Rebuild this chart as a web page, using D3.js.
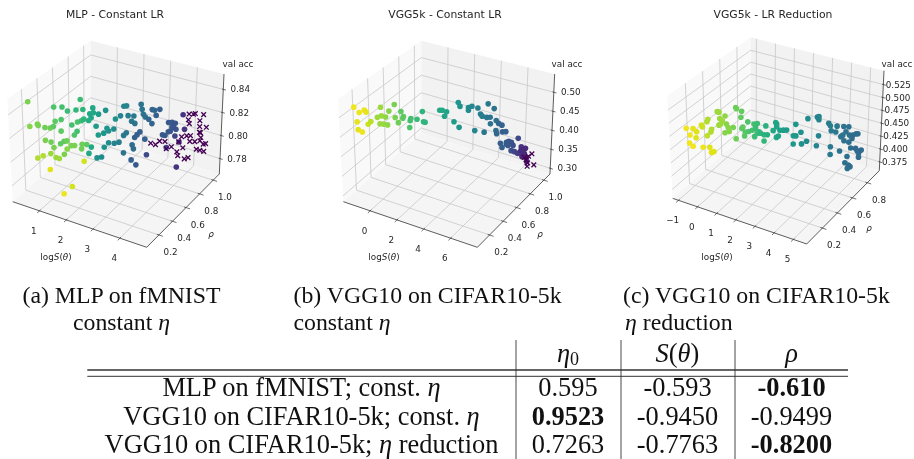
<!DOCTYPE html>
<html>
<head>
<meta charset="utf-8">
<script src="https://cdn.jsdelivr.net/npm/d3@7"></script>
<style>
    html, body { margin: 0; padding: 0; background: #fff; }
    svg { display: block; }
    .plot text { font-family: "DejaVu Sans", sans-serif; fill: #262626; }
    .paper text { font-family: "Liberation Serif", serif; fill: #111; }
    .plot { filter: blur(0.3px); }
    .paper { filter: blur(0.25px); }
</style>
</head>
<body>
<svg id="chart" width="914" height="459"></svg>
<script>
// each point: logS, rho, val acc, colour position (read from the hue)
var mlpDots = [
    [0.21,0.2,0.844,0.80],[0.25,0.2,0.823,0.82],[0.53,0.2,0.827,0.80],[0.56,0.2,0.826,0.80],[0.50,0.2,0.798,0.88],
    [0.52,0.3,0.819,0.78],[0.71,0.3,0.820,0.78],[0.83,0.3,0.822,0.75],[0.90,0.3,0.827,0.75],[0.86,0.3,0.839,0.72],
    [1.16,0.3,0.841,0.70],[1.12,0.3,0.830,0.72],[1.11,0.3,0.820,0.75],[0.52,0.3,0.808,0.80],[0.73,0.3,0.808,0.78],
    [1.08,0.3,0.809,0.75],[1.21,0.3,0.812,0.75],[0.83,0.3,0.804,0.80],[0.71,0.3,0.798,0.85],[0.90,0.3,0.796,0.85],
    [1.21,0.3,0.801,0.80],[1.02,0.3,0.796,0.85],[0.42,0.3,0.794,0.88],[0.67,0.3,0.784,0.95],[1.17,0.3,0.767,0.97],
    [1.08,0.4,0.832,0.68],[1.39,0.4,0.835,0.66],[1.64,0.4,0.837,0.65],[1.55,0.4,0.845,0.68],[1.89,0.4,0.835,0.60],
    [1.94,0.4,0.832,0.60],[1.44,0.4,0.825,0.72],[1.58,0.4,0.827,0.68],[1.67,0.4,0.829,0.65],[1.85,0.4,0.829,0.62],
    [1.23,0.4,0.821,0.70],[1.42,0.4,0.817,0.70],[1.32,0.4,0.813,0.72],[1.04,0.4,0.806,0.78],[1.19,0.4,0.803,0.80],
    [1.32,0.4,0.804,0.80],[1.04,0.4,0.799,0.82],[1.60,0.4,0.807,0.78],[1.77,0.4,0.808,0.75],[1.94,0.4,0.807,0.60],
    [1.58,0.4,0.803,0.78],[1.85,0.4,0.801,0.60],[1.67,0.4,0.793,0.93],[1.21,0.4,0.768,0.93],
    [1.73,0.5,0.834,0.60],[1.75,0.5,0.830,0.60],[2.20,0.5,0.835,0.50],[1.94,0.5,0.830,0.55],[1.85,0.5,0.819,0.55],
    [1.88,0.5,0.792,0.50],[2.05,0.5,0.794,0.48],[2.15,0.5,0.803,0.50],[2.31,0.5,0.808,0.48],[2.52,0.5,0.809,0.45],
    [1.93,0.5,0.812,0.55],[2.13,0.5,0.815,0.52],[2.31,0.5,0.818,0.50],[2.25,0.5,0.820,0.52],[2.50,0.5,0.821,0.48],
    [2.56,0.5,0.830,0.50],
    [2.43,0.6,0.804,0.42],[2.60,0.6,0.811,0.40],[2.70,0.6,0.814,0.40],[2.48,0.6,0.827,0.45],[2.60,0.6,0.836,0.45],
    [2.70,0.6,0.837,0.45],[2.76,0.6,0.829,0.42],[2.97,0.6,0.830,0.40],[2.89,0.6,0.825,0.40],[3.01,0.6,0.824,0.38],
    [2.92,0.6,0.805,0.35],[2.97,0.6,0.802,0.35],[2.60,0.6,0.796,0.38],[2.89,0.6,0.792,0.30],[3.07,0.6,0.789,0.28],
    [3.01,0.6,0.812,0.30],[3.10,0.6,0.815,0.30],[3.20,0.6,0.818,0.30],
    [2.97,0.7,0.835,0.38],[3.01,0.7,0.831,0.38],[3.06,0.7,0.827,0.38],[3.13,0.7,0.825,0.36],[3.38,0.7,0.833,0.33],
    [3.47,0.7,0.833,0.32],[3.66,0.7,0.835,0.30],[3.26,0.7,0.824,0.33],[3.38,0.7,0.821,0.32],[3.53,0.7,0.829,0.30],
    [3.20,0.7,0.793,0.22],[3.78,0.7,0.814,0.27],[3.13,0.7,0.806,0.30],
    [3.62,0.8,0.807,0.27],[3.74,0.8,0.811,0.27],[3.81,0.8,0.812,0.27],[3.87,0.8,0.816,0.27],[3.74,0.8,0.819,0.28],
    [3.87,0.8,0.820,0.27],[3.99,0.8,0.820,0.26],[3.93,0.8,0.816,0.26],[4.02,0.8,0.815,0.25],[4.27,0.8,0.829,0.15],
    [4.34,0.8,0.817,0.15],[4.15,0.8,0.805,0.15],[3.99,0.8,0.809,0.20],[3.68,0.8,0.797,0.20],[4.08,0.8,0.783,0.15]
];
var mlpCrosses = [
    [3.35,0.7,0.804],[3.53,0.7,0.804],[3.68,0.7,0.808],[3.88,0.7,0.809],
    [3.68,0.8,0.796],[3.87,0.8,0.799],[4.08,0.8,0.796],[4.12,0.8,0.793],[4.24,0.8,0.810],[4.14,0.8,0.805],
    [4.49,0.8,0.831],[4.47,0.8,0.826],[4.51,0.8,0.823],[4.43,0.8,0.812],[4.30,0.8,0.801],[4.37,0.8,0.792],[4.51,0.8,0.794],
    [4.40,0.9,0.825],[4.47,0.9,0.826],[4.78,0.9,0.827],[4.65,0.9,0.821],[4.65,0.9,0.816],[4.90,0.9,0.817],
    [4.32,0.9,0.806],[4.30,0.9,0.801],[4.49,0.9,0.802],[4.65,0.9,0.811],[4.69,0.9,0.811],[4.71,0.9,0.807],
    [4.68,0.9,0.804],[4.81,0.9,0.802],[4.90,0.9,0.803],[4.56,0.9,0.796],[4.69,0.9,0.796],[4.84,0.9,0.796]
];

var vggDots = [
    [-1.93,0.2,0.502,0.98],[-1.55,0.2,0.492,0.97],[-1.18,0.2,0.502,0.97],[-1.05,0.2,0.498,0.96],[-1.73,0.2,0.466,0.96],
    [-1.68,0.2,0.446,0.96],[-1.38,0.2,0.443,0.97],[-0.93,0.2,0.468,0.92],[-0.73,0.2,0.477,0.90],
    [-0.56,0.3,0.501,0.85],[-0.81,0.3,0.472,0.85],[-0.51,0.3,0.479,0.85],[-0.21,0.3,0.479,0.83],[0.04,0.3,0.497,0.82],
    [0.44,0.3,0.518,0.80],[-0.63,0.3,0.457,0.85],[-0.38,0.3,0.459,0.84],[-0.08,0.3,0.460,0.83],[0.49,0.3,0.485,0.80],
    [0.36,0.4,0.484,0.75],[0.16,0.4,0.453,0.78],[0.54,0.4,0.473,0.75],[0.49,0.4,0.468,0.75],[1.08,0.4,0.473,0.70],
    [1.03,0.4,0.467,0.70],[1.53,0.4,0.476,0.68],[0.99,0.4,0.449,0.72],
    [1.38,0.5,0.479,0.65],[1.46,0.5,0.453,0.65],[1.58,0.5,0.453,0.65],[2.65,0.5,0.495,0.60],[2.83,0.5,0.497,0.60],
    [3.15,0.5,0.496,0.58],[3.00,0.5,0.483,0.58],
    [3.17,0.6,0.455,0.55],[3.55,0.6,0.444,0.52],[3.47,0.6,0.508,0.52],[3.60,0.6,0.499,0.52],[4.22,0.6,0.502,0.48],
    [4.22,0.6,0.495,0.48],[4.47,0.6,0.508,0.46],
    [4.39,0.7,0.487,0.43],[4.59,0.7,0.473,0.42],[4.72,0.7,0.469,0.42],[5.06,0.7,0.469,0.40],[5.31,0.7,0.472,0.38],
    [5.14,0.7,0.505,0.40],[5.59,0.7,0.497,0.38],[5.76,0.7,0.468,0.36],[5.34,0.7,0.455,0.38],[4.19,0.7,0.426,0.45],
    [4.89,0.7,0.429,0.40],[5.76,0.7,0.442,0.35],
    [5.31,0.8,0.413,0.33],[5.44,0.8,0.441,0.33],[5.69,0.8,0.439,0.32],[5.74,0.8,0.422,0.30],[5.99,0.8,0.425,0.30],
    [6.93,0.8,0.417,0.22],[5.61,0.8,0.391,0.30],[5.74,0.8,0.381,0.30],[6.06,0.8,0.398,0.28],[6.23,0.8,0.402,0.27],
    [6.43,0.8,0.402,0.26],[6.18,0.8,0.391,0.26],[6.56,0.8,0.395,0.24],[6.43,0.8,0.380,0.24],[6.06,0.8,0.393,0.28],
    [6.68,0.8,0.380,0.20],[6.93,0.8,0.378,0.18],
    [6.68,0.9,0.376,0.15],[7.00,0.9,0.375,0.12],[6.63,0.9,0.362,0.15],[6.93,0.9,0.361,0.12],[6.76,0.9,0.351,0.10],
    [7.08,0.9,0.350,0.10],[7.13,0.9,0.342,0.08],[6.68,0.9,0.367,0.12]
];
var vggCrosses = [
    [7.50,0.9,0.366],[7.25,0.9,0.357],[7.08,0.9,0.346],[7.20,0.9,0.339],[7.68,0.9,0.339],[7.18,0.9,0.330],[6.96,0.9,0.351]
];

var lrDots = [
    [-1.13,0.15,0.473,0.98],[-0.95,0.15,0.462,0.98],[-0.99,0.15,0.446,0.98],[-0.81,0.15,0.442,0.98],[-0.78,0.15,0.476,0.96],
    [-0.60,0.15,0.472,0.95],[-0.64,0.15,0.460,0.95],
    [-0.74,0.24,0.472,0.93],[-0.69,0.24,0.469,0.92],[-0.69,0.24,0.430,0.97],[-0.34,0.24,0.434,0.95],[-0.26,0.24,0.425,0.95],
    [-0.13,0.24,0.428,0.95],[-0.45,0.24,0.455,0.90],[-0.40,0.24,0.487,0.88],[-0.45,0.24,0.482,0.88],[-0.22,0.24,0.470,0.88],
    [-0.26,0.24,0.464,0.88],[0.09,0.24,0.507,0.85],[0.18,0.24,0.507,0.85],[0.21,0.24,0.495,0.85],[0.48,0.24,0.503,0.83],
    [0.34,0.24,0.492,0.85],[0.16,0.24,0.482,0.85],[0.25,0.24,0.485,0.85],
    [0.16,0.33,0.473,0.82],[0.25,0.33,0.467,0.82],[0.51,0.33,0.470,0.80],[0.08,0.33,0.455,0.82],[0.30,0.33,0.460,0.82],
    [0.65,0.33,0.510,0.78],[0.69,0.33,0.508,0.78],[0.95,0.33,0.506,0.76],[0.91,0.33,0.494,0.76],[1.26,0.33,0.489,0.72],
    [1.00,0.33,0.476,0.75],[0.95,0.33,0.473,0.75],[0.65,0.33,0.450,0.78],[1.09,0.33,0.460,0.74],[1.12,0.33,0.468,0.74],
    [1.30,0.33,0.471,0.72],
    [1.07,0.43,0.458,0.70],[1.16,0.43,0.471,0.70],[1.33,0.43,0.474,0.68],[1.24,0.43,0.464,0.68],[1.42,0.43,0.459,0.66],
    [1.33,0.43,0.455,0.68],[1.19,0.43,0.447,0.68],[1.50,0.43,0.457,0.65],[1.68,0.43,0.456,0.64],[1.85,0.43,0.458,0.63],
    [1.77,0.43,0.474,0.64],[2.15,0.43,0.469,0.60],[2.28,0.43,0.486,0.60],[2.32,0.43,0.458,0.60],[1.68,0.43,0.444,0.66],
    [1.96,0.52,0.468,0.58],[1.96,0.52,0.463,0.58],[2.13,0.52,0.458,0.57],[2.31,0.52,0.460,0.56],[2.48,0.52,0.462,0.55],
    [2.05,0.52,0.446,0.58],[2.95,0.52,0.478,0.53],[2.83,0.52,0.455,0.54],[2.96,0.52,0.456,0.53],[2.83,0.52,0.439,0.54],
    [2.86,0.61,0.450,0.50],[2.90,0.61,0.428,0.50],[3.16,0.61,0.436,0.48],[3.21,0.61,0.480,0.48],[3.70,0.61,0.488,0.45],
    [3.78,0.61,0.490,0.45],[3.78,0.61,0.484,0.45],[3.78,0.61,0.453,0.45],[3.68,0.61,0.433,0.45],
    [3.94,0.70,0.467,0.42],[4.03,0.70,0.463,0.42],[4.38,0.70,0.466,0.40],[4.08,0.70,0.454,0.41],[4.32,0.70,0.454,0.40],
    [4.73,0.70,0.469,0.38],[4.99,0.70,0.471,0.37],[4.85,0.70,0.460,0.37],[4.69,0.70,0.452,0.38],[4.59,0.70,0.448,0.38],
    [4.76,0.70,0.442,0.37],[5.02,0.70,0.442,0.36],[4.06,0.70,0.423,0.41],[4.06,0.70,0.408,0.41],[4.55,0.70,0.420,0.38],
    [4.95,0.70,0.414,0.36],[4.85,0.70,0.401,0.36],
    [4.69,0.79,0.440,0.36],[4.87,0.79,0.442,0.35],[5.04,0.79,0.446,0.35],[5.13,0.79,0.447,0.35],[4.83,0.79,0.435,0.35],
    [4.78,0.79,0.416,0.35],[5.04,0.79,0.418,0.34],[5.13,0.79,0.414,0.34],[5.34,0.79,0.418,0.34],[5.21,0.79,0.411,0.34],
    [5.21,0.79,0.403,0.34],[4.69,0.79,0.382,0.36],[4.78,0.79,0.380,0.35],[4.64,0.79,0.375,0.36]
];

var mlpTitle = "MLP - Constant LR", vggTitle = "VGG5k - Constant LR", lrTitle = "VGG5k - LR Reduction";

var mlpLogTicks = [1, 2, 3, 4], mlpRhoTicks = [0.2, 0.4, 0.6, 0.8, 1.0], mlpAccTicks = [0.78, 0.80, 0.82, 0.84];
var vggLogTicks = [0, 2, 4, 6], vggRhoTicks = [0.2, 0.4, 0.6, 0.8, 1.0], vggAccTicks = [0.30, 0.35, 0.40, 0.45, 0.50];
var lrLogTicks = [-1, 0, 1, 2, 3, 4, 5], lrRhoTicks = [0.2, 0.4, 0.6, 0.8],
    lrAccTicks = [0.375, 0.400, 0.425, 0.450, 0.475, 0.500, 0.525];

var captionA = ["(a) MLP on fMNIST", "constant "];
var captionB = ["(b) VGG10 on CIFAR10-5k", "constant "];
var captionC = ["(c) VGG10 on CIFAR10-5k", " reduction"];

var tableNames = [["MLP on fMNIST; const. ", ""], ["VGG10 on CIFAR10-5k; const. ", ""], ["VGG10 on CIFAR10-5k; ", " reduction"]];
var tableEta = ["0.595", "0.9523", "0.7263"];
var tableS = ["-0.593", "-0.9450", "-0.7763"];
var tableRho = ["-0.610", "-0.9499", "-0.8200"];
var boldCells = {"0.9523": 1, "-0.610": 1, "-0.8200": 1};

var svg = d3.select("#chart");

// pane corners of the first plot, the others are shifted copies. Index is u,v,w as bits
var boxCorners = {
    "000": [12.7, 201.7], "100": [146.7, 247.3], "010": [90.7, 133.3], "110": [219.3, 174],
    "001": [7.3, 99], "101": [150, 138.3], "011": [90.7, 40.7], "111": [224, 74]
};

function lerp(a, b, t) {
    return a + (b - a) * t;
}

function boxPoint(u, v, w) {
    return [0, 1].map(function (i) {
        var c = boxCorners;
        var v0 = lerp(lerp(c["000"][i], c["100"][i], u), lerp(c["010"][i], c["110"][i], u), v);
        var v1 = lerp(lerp(c["001"][i], c["101"][i], u), lerp(c["011"][i], c["111"][i], u), v);
        return lerp(v0, v1, w);
    });
}

function drawPlot(cfg) {
    var xScale = d3.scaleLinear().domain(cfg.logLim).range([0, 1]);
    var yScale = d3.scaleLinear().domain(cfg.rhoLim).range([0, 1]);
    var zScale = d3.scaleLinear().domain(cfg.accLim).range([0, 1]);

    function proj(x, y, z) {
        return boxPoint(xScale(x), yScale(y), zScale(z));
    }

    var xMin = cfg.logLim[0], xMax = cfg.logLim[1], yMin = cfg.rhoLim[0], yMax = cfg.rhoLim[1],
        zMin = cfg.accLim[0], zMax = cfg.accLim[1];

    var g = svg.append("g").attr("class", "plot")
        .attr("transform", "translate(" + cfg.dx + "," + cfg.dy + ")");

    var pathLine = d3.line();

    function seg(parent, a, b, color, width) {
        parent.append("path")
            .attr("d", pathLine([a, b]))
            .attr("stroke", color)
            .attr("stroke-width", width)
            .attr("fill", "none");
    }

    function pane(points, color) {
        g.append("path")
            .attr("d", pathLine(points) + "Z")
            .attr("fill", color);
    }

    pane([proj(xMin, yMin, zMin), proj(xMin, yMax, zMin), proj(xMin, yMax, zMax), proj(xMin, yMin, zMax)], "#f9f9f9");
    pane([proj(xMin, yMax, zMin), proj(xMax, yMax, zMin), proj(xMax, yMax, zMax), proj(xMin, yMax, zMax)], "#f2f2f2");
    pane([proj(xMin, yMin, zMin), proj(xMax, yMin, zMin), proj(xMax, yMax, zMin), proj(xMin, yMax, zMin)], "#f5f5f5");

    var grid = g.append("g");
    var gridColor = "#c8c8c8";
    cfg.logTicks.forEach(function (t) {
        seg(grid, proj(t, yMin, zMin), proj(t, yMax, zMin), gridColor, 0.8);
        seg(grid, proj(t, yMax, zMin), proj(t, yMax, zMax), gridColor, 0.8);
    });
    cfg.rhoTicks.forEach(function (t) {
        seg(grid, proj(xMin, t, zMin), proj(xMax, t, zMin), gridColor, 0.8);
        seg(grid, proj(xMin, t, zMin), proj(xMin, t, zMax), gridColor, 0.8);
    });
    cfg.accTicks.forEach(function (t) {
        seg(grid, proj(xMin, yMin, t), proj(xMin, yMax, t), gridColor, 0.8);
        seg(grid, proj(xMin, yMax, t), proj(xMax, yMax, t), gridColor, 0.8);
    });

    // edges of the box with the axes on them
    var axes = g.append("g");
    seg(axes, proj(xMin, yMin, zMin), proj(xMax, yMin, zMin), "#333", 0.8);
    seg(axes, proj(xMax, yMin, zMin), proj(xMax, yMax, zMin), "#333", 0.8);
    seg(axes, proj(xMax, yMax, zMin), proj(xMax, yMax, zMax), "#333", 0.8);

    var logOut = (yMax - yMin) * 0.03, rhoOut = (xMax - xMin) * 0.03, accOut = (xMax - xMin) * 0.02;
    var tickSize = 8.8;

    cfg.logTicks.forEach(function (t) {
        var p = proj(t, yMin, zMin);
        seg(axes, proj(t, yMin - logOut, zMin), proj(t, yMin + logOut / 2, zMin), "#333", 0.7);
        g.append("text").attr("x", p[0] - 5.7).attr("y", p[1] + 20)
            .attr("text-anchor", "middle").attr("dy", "0.35em").style("font-size", tickSize + "px")
            .text(d3.format("d")(t));
    });
    cfg.rhoTicks.forEach(function (t) {
        var p = proj(xMax, t, zMin);
        seg(axes, proj(xMax + rhoOut, t, zMin), proj(xMax - rhoOut / 2, t, zMin), "#333", 0.7);
        g.append("text").attr("x", p[0] + 11.7).attr("y", p[1] + 17)
            .attr("text-anchor", "middle").attr("dy", "0.35em").style("font-size", tickSize + "px")
            .text(d3.format(".1f")(t));
    });
    cfg.accTicks.forEach(function (t) {
        var p = proj(xMax, yMax, t);
        seg(axes, proj(xMax + accOut, yMax, t), proj(xMax - accOut / 2, yMax, t), "#333", 0.7);
        g.append("text").attr("x", p[0] + cfg.accLabelOffset).attr("y", p[1])
            .attr("text-anchor", "middle").attr("dy", "0.35em").style("font-size", tickSize + "px")
            .text(d3.format(cfg.accFormat)(t));
    });

    // points
    g.selectAll("circle.dot").data(cfg.dots).enter().append("circle")
        .attr("class", "dot")
        .attr("cx", function (d) { return proj(d[0], d[1], d[2])[0]; })
        .attr("cy", function (d) { return proj(d[0], d[1], d[2])[1]; })
        .attr("r", 2.8)
        .attr("fill", function (d) { return d3.interpolateViridis(d[3]); });

    var crossPath = d3.symbol().type(d3.symbolX).size(16);
    g.selectAll("path.cross").data(cfg.crosses).enter().append("path")
        .attr("class", "cross")
        .attr("d", crossPath)
        .attr("transform", function (d) {
            var p = proj(d[0], d[1], d[2]);
            return "translate(" + p[0] + "," + p[1] + ")";
        })
        .attr("fill", "none")
        .attr("stroke", d3.interpolateViridis(0))
        .attr("stroke-width", 1.3);

    // titles and axis names are placed in page coordinates
    var page = svg.append("g").attr("class", "plot");
    page.append("text").attr("x", cfg.titleX).attr("y", 18)
        .attr("text-anchor", "middle").style("font-size", "10.8px").text(cfg.title);
    page.append("text").attr("x", cfg.accNameX).attr("y", 64).attr("dy", "0.35em")
        .attr("text-anchor", "middle").style("font-size", tickSize + "px").text("val acc");

    var logName = page.append("text").attr("x", cfg.logName[0]).attr("y", cfg.logName[1]).attr("dy", "0.35em")
        .attr("text-anchor", "middle").style("font-size", tickSize + "px");
    logName.append("tspan").text("log");
    logName.append("tspan").attr("font-style", "italic").text("S");
    logName.append("tspan").text("(");
    logName.append("tspan").attr("font-style", "italic").text("θ");
    logName.append("tspan").text(")");

    page.append("text").attr("x", cfg.rhoName[0]).attr("y", cfg.rhoName[1]).attr("dy", "0.35em")
        .attr("text-anchor", "middle").attr("font-style", "italic").style("font-size", tickSize + "px").text("ρ");
}

drawPlot({
    title: mlpTitle, titleX: 115, dx: 0, dy: 0, accNameX: 238, logName: [56, 257], rhoName: [211, 234],
    logLim: [0, 5], rhoLim: [0.02, 1.09], accLim: [0.7667, 0.8533], accFormat: ".2f", accLabelOffset: 17,
    logTicks: mlpLogTicks, rhoTicks: mlpRhoTicks, accTicks: mlpAccTicks, dots: mlpDots, crosses: mlpCrosses
});
drawPlot({
    title: vggTitle, titleX: 445, dx: 330.67, dy: 0, accNameX: 567, logName: [384, 257], rhoName: [540, 234],
    logLim: [-2, 8], rhoLim: [0.02, 1.09], accLim: [0.285, 0.548], accFormat: ".2f", accLabelOffset: 17,
    logTicks: vggLogTicks, rhoTicks: vggRhoTicks, accTicks: vggAccTicks, dots: vggDots, crosses: vggCrosses
});
drawPlot({
    title: lrTitle, titleX: 773, dx: 660, dy: -3.33, accNameX: 897, logName: [717, 257], rhoName: [869, 228],
    logLim: [-1.3, 5.7], rhoLim: [-0.01, 0.96], accLim: [0.358, 0.552], accFormat: ".3f", accLabelOffset: 15,
    logTicks: lrLogTicks, rhoTicks: lrRhoTicks, accTicks: lrAccTicks, dots: lrDots, crosses: []
});

// captions and the table under the plots
var paper = svg.append("g").attr("class", "paper");
var captionSize = 23.8, tableSize = 26.4;

function etaText(x, y, before, after, anchor, size) {
    var t = paper.append("text").attr("x", x).attr("y", y)
        .attr("text-anchor", anchor || "start")
        .style("font-size", size + "px");
    if (before) t.append("tspan").text(before);
    t.append("tspan").attr("font-style", "italic").text("η");
    if (after) t.append("tspan").text(after);
}

function plainText(x, y, str, anchor, size, bold) {
    paper.append("text").attr("x", x).attr("y", y)
        .attr("text-anchor", anchor || "start")
        .attr("font-weight", bold ? "bold" : "normal")
        .style("font-size", size + "px")
        .text(str);
}

plainText(22.5, 303, captionA[0], "start", captionSize);
etaText(73, 330, captionA[1], "", "start", captionSize);
plainText(293.5, 303, captionB[0], "start", captionSize);
etaText(293.5, 330, captionB[1], "", "start", captionSize);
plainText(623, 303, captionC[0], "start", captionSize);
etaText(625, 330, "", captionC[1], "start", captionSize);

var colX = [568, 677.5, 791.5], ruleLeft = 87.3, ruleRight = 848;
var rowY = [396, 424.5, 453];

[516, 621, 735].forEach(function (x) {
    paper.append("line").attr("x1", x).attr("x2", x).attr("y1", 340).attr("y2", 459)
        .attr("stroke", "#333").attr("stroke-width", 0.9);
});
[[370, 1.6], [376.3, 1]].forEach(function (r) {
    paper.append("line").attr("x1", ruleLeft).attr("x2", ruleRight).attr("y1", r[0]).attr("y2", r[0])
        .attr("stroke", "#333").attr("stroke-width", r[1]);
});

// header cells
var h0 = paper.append("text").attr("x", colX[0]).attr("y", 362).attr("text-anchor", "middle").style("font-size", tableSize + "px");
h0.append("tspan").attr("font-style", "italic").text("η");
h0.append("tspan").attr("dy", 3).style("font-size", "18px").text("0");
var h1 = paper.append("text").attr("x", colX[1]).attr("y", 362).attr("text-anchor", "middle").style("font-size", tableSize + "px");
h1.append("tspan").attr("font-style", "italic").text("S");
h1.append("tspan").text("(");
h1.append("tspan").attr("font-style", "italic").text("θ");
h1.append("tspan").text(")");
paper.append("text").attr("x", colX[2]).attr("y", 362).attr("text-anchor", "middle")
    .attr("font-style", "italic").style("font-size", tableSize + "px").text("ρ");

tableNames.forEach(function (name, i) {
    etaText(301.5, rowY[i], name[0], name[1], "middle", tableSize);
    [tableEta, tableS, tableRho].forEach(function (col, j) {
        plainText(colX[j], rowY[i], col[i], "middle", tableSize, boldCells[col[i]]);
    });
});
</script>
</body>
</html>
